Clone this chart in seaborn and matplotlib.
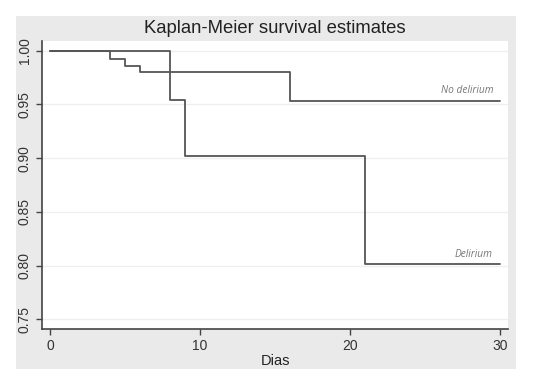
import numpy as np
import pandas as pd
import matplotlib
matplotlib.use("Agg")
import matplotlib.pyplot as plt
import seaborn as sns

# Data (Kaplan-Meier step points: time, survival)
dias_no_delirium = [0, 4, 5, 6, 16, 30]
surv_no_delirium = [1.000, 0.992, 0.986, 0.980, 0.953, 0.953]
dias_delirium = [0, 8, 9, 21, 30]
surv_delirium = [1.000, 0.9545, 0.9015, 0.8013, 0.8013]
grupos = ["No delirium", "Delirium"]
x_ticks = [0, 10, 20, 30]
y_ticks = [0.75, 0.80, 0.85, 0.90, 0.95, 1.00]

df = pd.concat([
    pd.DataFrame({"Dias": dias_no_delirium, "surv": surv_no_delirium, "grupo": grupos[0]}),
    pd.DataFrame({"Dias": dias_delirium, "surv": surv_delirium, "grupo": grupos[1]}),
], ignore_index=True)

sns.set_style("white")
plt.rcParams["font.family"] = ["Liberation Sans", "DejaVu Sans"]

fig = plt.figure(figsize=(5.37, 3.88), dpi=100)
fig.patch.set_facecolor("white")

# gray graph region as a background axes
bg = fig.add_axes([16 / 537, 1 - 369 / 388, (515.5 - 16) / 537, (369 - 16) / 388], zorder=-5)
bg.set_facecolor("#eaeaea")
bg.set_xticks([])
bg.set_yticks([])
for s in bg.spines.values():
    s.set_visible(False)

ax = fig.add_axes([42 / 537, 1 - 328.5 / 388, (508 - 42) / 537, (328.5 - 41) / 388], zorder=1)
ax.set_facecolor("white")

for yv in y_ticks:
    ax.axhline(yv, color="#efefef", lw=0.9, zorder=0)

sns.lineplot(data=df, x="Dias", y="surv", hue="grupo", palette=["#555555", "#555555"],
             drawstyle="steps-post", estimator=None, legend=False, lw=1.3, ax=ax, zorder=3)

ax.set_xlim(-0.53, 30.53)
ax.set_ylim(0.7414, 1.009)
ax.set_xticks(x_ticks)
ax.set_xticklabels([str(v) for v in x_ticks], fontsize=10, color="#333333")
ax.set_yticks(y_ticks)
ax.set_yticklabels([f"{v:.2f}" for v in y_ticks], fontsize=10, color="#333333",
                   rotation=90, va="center")
ax.tick_params(axis="both", direction="out", length=4.5, width=1.0, color="#444444", pad=3,
               left=True, bottom=True)

for s in ["top", "right"]:
    ax.spines[s].set_visible(False)
for s in ["left", "bottom"]:
    ax.spines[s].set_color("#444444")
    ax.spines[s].set_linewidth(1.2)

ax.set_xlabel("Dias", fontsize=10.5, color="#222222", labelpad=1)
ax.set_ylabel("")
ax.set_title("Kaplan-Meier survival estimates", fontsize=13.3, color="#222222", pad=6)

lab_font = ["Open Sans", "DejaVu Sans"]
ax.text(29.55, 0.9606, grupos[0], ha="right", va="baseline", fontsize=7.3,
        style="italic", color="#777777", family=lab_font)
ax.text(29.5, 0.8075, grupos[1], ha="right", va="baseline", fontsize=7.3,
        style="italic", color="#777777", family=lab_font)

fig.savefig("out.png", dpi=100)
